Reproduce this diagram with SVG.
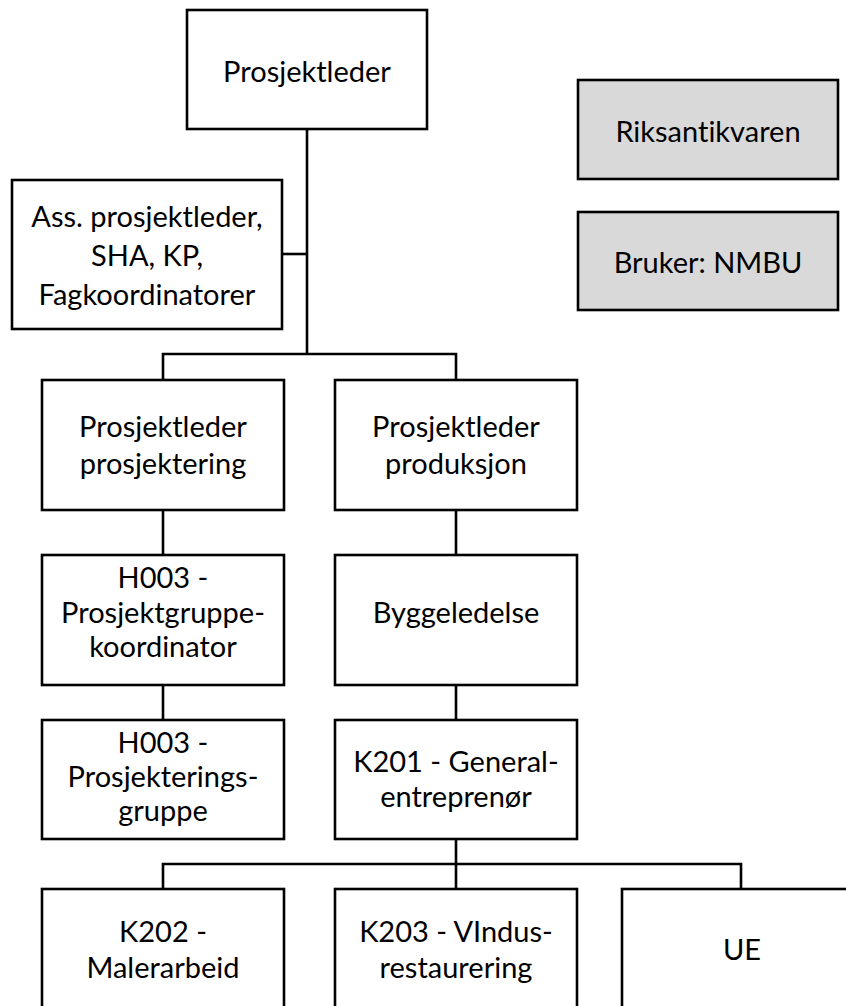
<svg xmlns="http://www.w3.org/2000/svg" width="846" height="1006" viewBox="0 0 846 1006">
  <style>
    .box { fill: #ffffff; stroke: #000000; stroke-width: 2.6; }
    .ext { fill: #d9d9d9; stroke: #000000; stroke-width: 2.6; }
    .lbl { font-family: Lato, "Liberation Sans", sans-serif; font-size: 29px; fill: #000000; text-anchor: middle; dominant-baseline: central; font-variant-ligatures: none; }
    .wire { fill: none; stroke: #000000; stroke-width: 2.6; }
  </style>
  <rect width="846" height="1006" fill="#ffffff"/>

  <!-- connectors -->
  <g id="connectors" class="wire">
    <path d="M307 129 V354"/>
    <path d="M282 254 H307"/>
    <path d="M163 380 V354 H456 V380"/>
    <path d="M163 510 V555"/>
    <path d="M456 510 V555"/>
    <path d="M163 685 V720"/>
    <path d="M456 685 V720"/>
    <path d="M456 839 V864"/>
    <path d="M163 889 V864 H741 V889"/>
    <path d="M456 864 V889"/>
  </g>

  <g id="prosjektleder">
    <rect class="box" x="187" y="10" width="240" height="119"/>
    <text class="lbl" x="307" y="70">Prosjektleder</text>
  </g>

  <g id="ass-prosjektleder">
    <rect class="box" x="12" y="180" width="270" height="149"/>
    <text class="lbl" x="147" y="215">Ass. prosjektleder,</text>
    <text class="lbl" x="147" y="254">SHA, KP,</text>
    <text class="lbl" x="147" y="293">Fagkoordinatorer</text>
  </g>

  <g id="riksantikvaren">
    <rect class="ext" x="578" y="80" width="260" height="99"/>
    <text class="lbl" x="708" y="130">Riksantikvaren</text>
  </g>

  <g id="bruker">
    <rect class="ext" x="578" y="212" width="260" height="98"/>
    <text class="lbl" x="708" y="261">Bruker: NMBU</text>
  </g>

  <g id="pl-prosjektering">
    <rect class="box" x="42" y="380" width="242" height="130"/>
    <text class="lbl" x="163" y="425">Prosjektleder</text>
    <text class="lbl" x="163" y="462">prosjektering</text>
  </g>

  <g id="pl-produksjon">
    <rect class="box" x="335" y="380" width="242" height="130"/>
    <text class="lbl" x="456" y="425">Prosjektleder</text>
    <text class="lbl" x="456" y="462">produksjon</text>
  </g>

  <g id="h003-koordinator">
    <rect class="box" x="42" y="555" width="242" height="130"/>
    <text class="lbl" x="163" y="576">H003 -</text>
    <text class="lbl" x="163" y="611">Prosjektgruppe-</text>
    <text class="lbl" x="163" y="645">koordinator</text>
  </g>

  <g id="byggeledelse">
    <rect class="box" x="335" y="555" width="242" height="130"/>
    <text class="lbl" x="456" y="611">Byggeledelse</text>
  </g>

  <g id="h003-gruppe">
    <rect class="box" x="42" y="720" width="242" height="119"/>
    <text class="lbl" x="163" y="741">H003 -</text>
    <text class="lbl" x="163" y="775">Prosjekterings-</text>
    <text class="lbl" x="163" y="809">gruppe</text>
  </g>

  <g id="k201">
    <rect class="box" x="335" y="720" width="242" height="119"/>
    <text class="lbl" x="456" y="760">K201 - General-</text>
    <text class="lbl" x="456" y="795">entreprenør</text>
  </g>

  <g id="k202">
    <rect class="box" x="42" y="889" width="242" height="130"/>
    <text class="lbl" x="163" y="930">K202 -</text>
    <text class="lbl" x="163" y="966">Malerarbeid</text>
  </g>

  <g id="k203">
    <rect class="box" x="335" y="889" width="242" height="130"/>
    <text class="lbl" x="456" y="930">K203 - VIndus-</text>
    <text class="lbl" x="456" y="966">restaurering</text>
  </g>

  <g id="ue">
    <rect class="box" x="622" y="889" width="240" height="130"/>
    <text class="lbl" x="742" y="948">UE</text>
  </g>
</svg>
